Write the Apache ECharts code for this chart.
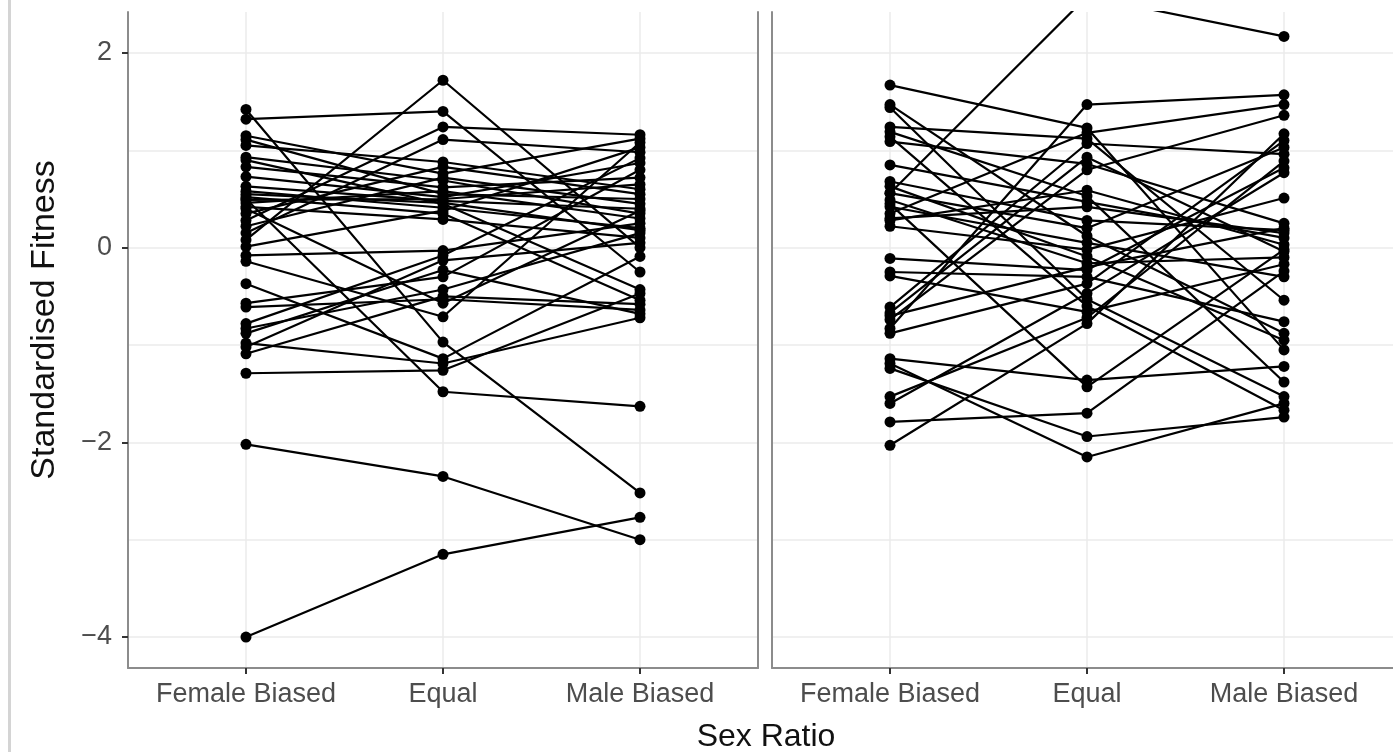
<!DOCTYPE html>
<html>
<head>
<meta charset="utf-8">
<script src="https://cdn.jsdelivr.net/npm/echarts@6/dist/echarts.min.js"></script>
<style>html,body{margin:0;padding:0;background:#fff}#c{width:1393px;height:752px}</style>
</head>
<body>
<div id="c"></div>
<script>
const categories = ['Female Biased', 'Equal', 'Male Biased'];
const yTickValues = [-4, -2, 0, 2];
const xTitle = 'Sex Ratio';
const yTitle = 'Standardised Fitness';

// Left panel: one entry per line (Female Biased, Equal, Male Biased)
const leftFemale = [-4.0, -2.02, 1.42, 0.50, -1.29, 0.08, 1.32, 0.28, 0.15, 1.15, 1.11, 1.05, 0.93, 0.90, 0.83, 0.73, 0.63, 0.58, 0.52, 0.49, 0.46, 0.42, 0.35, 0.22, 0.01, -0.08, -0.14, -0.37, -0.57, -0.61, -0.78, -0.83, -0.88, -0.98, -1.02, -1.09, 0.40, 0.55];
const leftEqual  = [-3.15, -2.35, -0.97, -1.48, -1.26, 1.72, 1.40, 1.24, 1.11, 0.76, 0.55, 0.88, 0.69, 0.45, 0.62, 0.52, 0.48, 0.41, 0.35, 0.50, 0.58, 0.29, 0.83, 0.72, 0.38, -0.03, -0.71, -1.14, -0.30, -0.53, -0.08, -0.43, -0.23, -1.19, -0.13, -0.50, -0.57, 0.46];
const leftMale   = [-2.77, -3.0, -2.52, -1.63, -0.47, 0.0, -0.25, 1.16, 0.98, 1.12, 0.50, 0.60, 0.35, -0.43, 0.72, 0.87, 0.40, 0.20, -0.54, 0.65, 0.30, 0.10, 0.55, 0.45, 1.03, 0.25, 1.08, -0.09, 0.80, -0.64, 0.92, 0.15, -0.68, -0.72, 0.05, -0.58, 0.38, 0.18];

// Right panel
const rightFemale = [0.56, 1.67, 1.47, 1.44, 1.24, 1.19, 1.14, 1.09, 0.85, 0.68, 0.63, 0.56, 0.49, 0.42, 0.35, 0.28, 0.22, -0.11, -0.25, -0.29, -0.61, -0.67, -0.74, -0.83, -0.88, -1.14, -1.19, -1.24, -1.53, -1.60, -1.79, -2.03, 0.45, 0.30, -0.70];
const rightEqual  = [2.58, 1.23, 0.12, -0.53, 1.12, 0.53, -0.60, 0.86, 0.47, 0.28, -0.09, 0.20, -0.16, 0.05, 1.18, 0.59, -0.02, -0.23, -0.30, -0.66, 1.07, 0.93, 0.80, 1.47, -0.37, -1.36, -2.15, -1.94, -0.72, -0.47, -1.70, -0.78, -1.43, 0.42, -0.20];
const rightMale   = [2.17, -1.05, -0.88, -1.53, -0.54, -1.38, -1.67, 0.25, 0.10, 0.18, -0.95, 1.03, -0.10, -0.30, 1.47, 0.03, 0.51, 0.82, -0.76, -0.17, 0.96, -0.04, 1.36, 1.57, 1.10, -1.22, -1.60, -1.74, 0.89, 0.77, -0.24, 1.17, -0.02, 0.15, 0.20];

const Y_MIN = -4.318, Y_MAX = 2.421;
const FONT = '"Liberation Sans", Arial, Helvetica, sans-serif';
const FRAME = '#8c8c8c';
const GRIDC = '#ebebeb';
const TXT = '#4d4d4d';

const chart = echarts.init(document.getElementById('c'), null, {renderer: 'canvas'});

function hiddenParts() {
  return {axisLine: {show: false}, axisTick: {show: false}, axisLabel: {show: false}, splitLine: {show: false}};
}

const grids = [
  {left: 128, top: 12, width: 630, height: 656},  // 0 left frame
  {left: 246, top: 12, width: 394, height: 656},  // 1 left data
  {left: 772, top: 12, width: 630, height: 656},  // 2 right frame
  {left: 890, top: 12, width: 394, height: 656}   // 3 right data
];

function frameX(g) {
  return Object.assign(hiddenParts(), {
    type: 'value', gridIndex: g, min: 0, max: 1, position: 'bottom',
    axisLine: {show: true, onZero: false, lineStyle: {color: FRAME, width: 2}}
  });
}
function dataX(g) {
  return {
    type: 'value', gridIndex: g, min: 0, max: 2, minInterval: 1, maxInterval: 1, position: 'bottom',
    axisLine: {show: false, onZero: false},
    axisTick: {show: true, length: 6, lineStyle: {color: '#333', width: 2}},
    axisLabel: {show: true, margin: 13, fontSize: 27, color: TXT, fontFamily: FONT,
      formatter: v => (Number.isInteger(v) ? categories[v] : '')},
    splitLine: {show: true, lineStyle: {color: GRIDC, width: 1.5}}
  };
}
function gridY(g) {
  return Object.assign(hiddenParts(), {
    type: 'value', gridIndex: g, min: Y_MIN, max: Y_MAX, minInterval: 1, maxInterval: 1, position: 'left',
    splitLine: {show: true, showMinLine: false, showMaxLine: false, lineStyle: {color: GRIDC, width: 1.5}}
  });
}
function lineY(g, pos, labels) {
  const o = Object.assign(hiddenParts(), {
    type: 'value', gridIndex: g, min: Y_MIN, max: Y_MAX, minInterval: 2, maxInterval: 2, position: pos,
    axisLine: {show: true, onZero: false, lineStyle: {color: FRAME, width: 2}}
  });
  if (labels) {
    o.axisTick = {show: true, length: 6, customValues: yTickValues, lineStyle: {color: '#333', width: 2}};
    o.axisLabel = {show: true, margin: 16, fontSize: 27, color: TXT, fontFamily: FONT, customValues: yTickValues,
      formatter: v => (yTickValues.indexOf(v) >= 0 ? String(v).replace('-', '\u2212') : '')};
  }
  return o;
}
function dataY(g) {
  return Object.assign(hiddenParts(), {type: 'value', gridIndex: g, min: Y_MIN, max: Y_MAX, position: 'left',
    axisLine: {show: false, onZero: false}});
}

const xAxes = [frameX(0), dataX(1), frameX(2), dataX(3)];
const yAxes = [
  gridY(0),                 // 0
  lineY(0, 'left', true),   // 1
  lineY(0, 'right', false), // 2
  dataY(1),                 // 3
  gridY(2),                 // 4
  lineY(2, 'left', false),  // 5
  dataY(3)                  // 6
];

const series = [];
function addPanel(F, E, M, xi, yi) {
  for (let i = 0; i < F.length; i++) {
    series.push({
      type: 'line', xAxisIndex: xi, yAxisIndex: yi, silent: true, animation: false,
      data: [[0, F[i]], [1, E[i]], [2, M[i]]],
      symbol: 'circle', symbolSize: 11, showSymbol: true,
      lineStyle: {color: '#000', width: 2.2},
      itemStyle: {color: '#000'},
      z: 5
    });
  }
}
addPanel(leftFemale, leftEqual, leftMale, 1, 3);
addPanel(rightFemale, rightEqual, rightMale, 3, 6);

chart.setOption({
  animation: false,
  backgroundColor: '#fff',
  grid: grids,
  xAxis: xAxes,
  yAxis: yAxes,
  series: series,
  graphic: [
    {type: 'rect', left: 8, top: 0, shape: {width: 3, height: 752}, style: {fill: '#d4d4d4'}, z: 0},
    {type: 'text', x: 766, y: 737, style: {text: xTitle, fontSize: 32, fill: '#111', fontFamily: FONT,
      textAlign: 'center', textVerticalAlign: 'middle'}},
    {type: 'text', x: 45, y: 320, rotation: Math.PI / 2, style: {text: yTitle, fontSize: 34, fill: '#111', fontFamily: FONT,
      textAlign: 'center', textVerticalAlign: 'middle'}}
  ]
});
</script>
</body>
</html>
